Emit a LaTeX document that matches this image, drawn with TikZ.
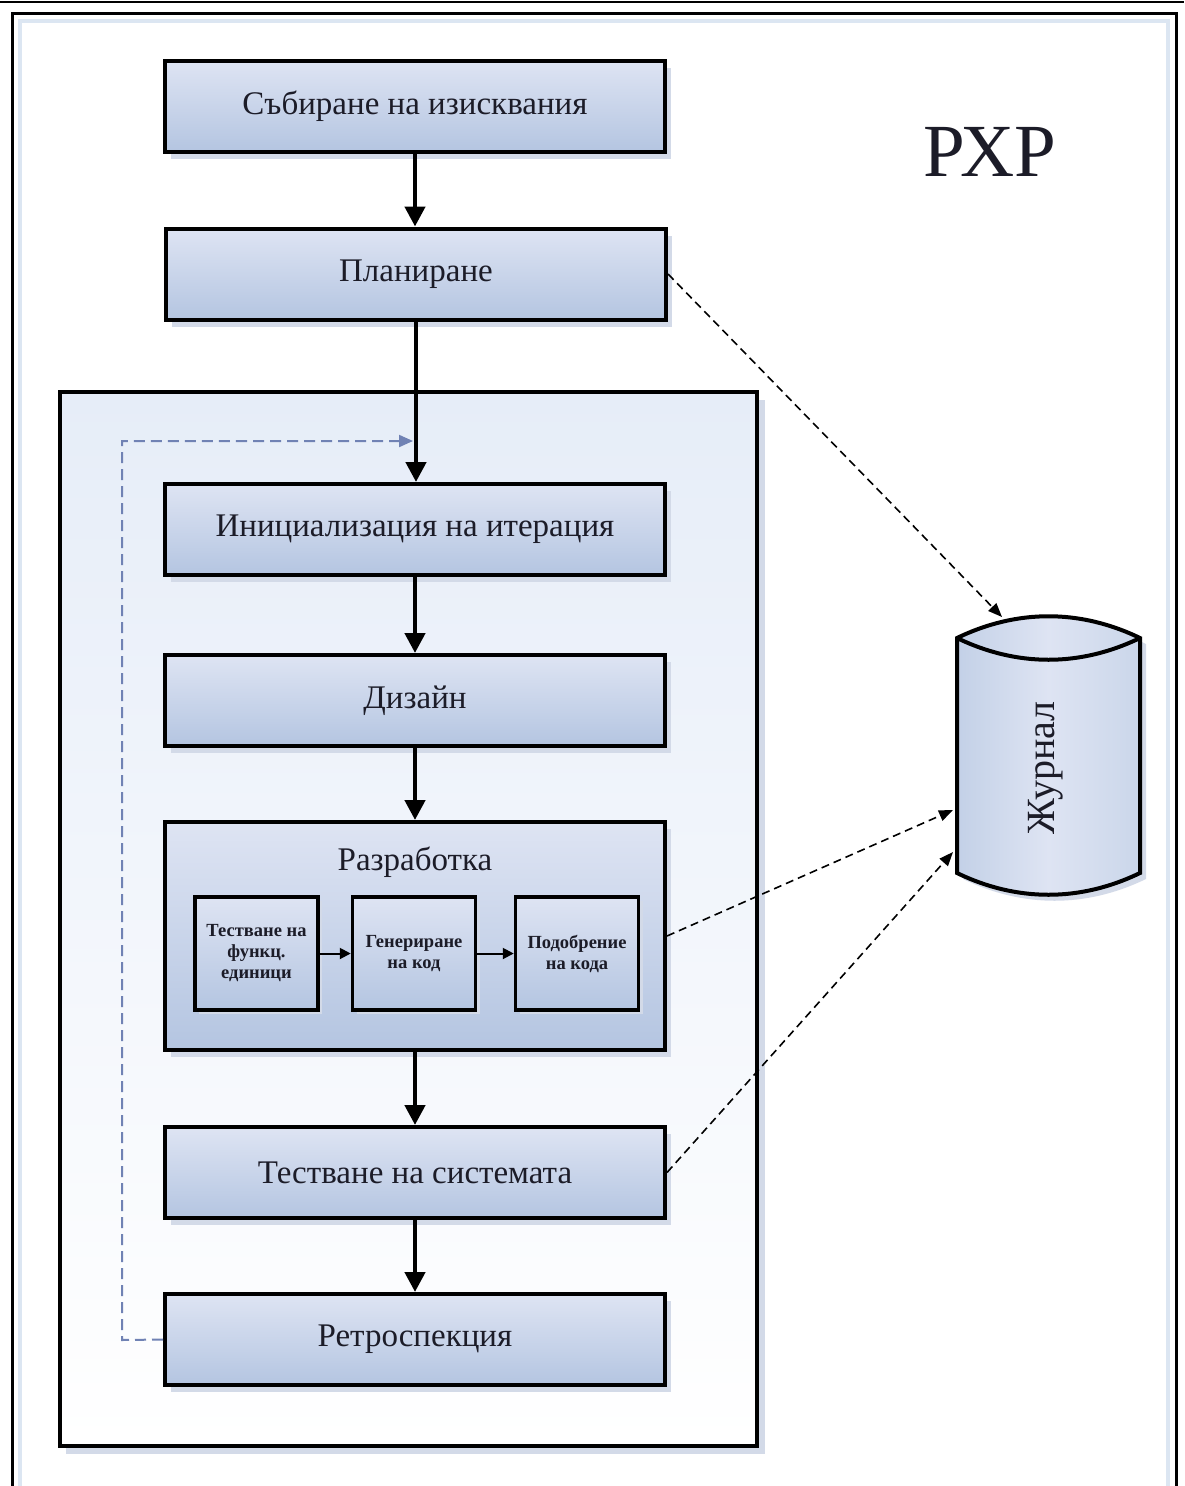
\documentclass[tikz,border=0pt]{standalone}
\usepackage{fontspec}
\setmainfont{Liberation Serif}
\usetikzlibrary{arrows.meta,shadows}
\definecolor{boxtop}{HTML}{DEE4F3}
\definecolor{boxbot}{HTML}{B4C5E1}
\definecolor{shadowc}{HTML}{D3DAE8}
\definecolor{loopc}{HTML}{7082B4}
\definecolor{contl}{HTML}{E6EDF8}
\definecolor{framein}{HTML}{DCE6F2}
\definecolor{txt}{HTML}{1C1C28}
\begin{document}
\begin{tikzpicture}[x=1pt,y=-1pt,
  stage/.style={draw=black, line width=4pt, top color=boxtop, bottom color=boxbot,
    minimum width=500pt, minimum height=91pt, inner sep=0pt, text=txt,
    font=\fontsize{33}{36}\selectfont,
    drop shadow={fill=shadowc, shadow xshift=6pt, shadow yshift=-7pt, opacity=1}},
  substage/.style={draw=black, line width=3.5pt, top color=boxtop, bottom color=boxbot,
    minimum width=123pt, minimum height=113pt, inner sep=0pt, align=center, text=txt,
    font=\bfseries\fontsize{18.5}{21}\selectfont,
    drop shadow={fill=shadowc, shadow xshift=4pt, shadow yshift=-4pt, opacity=1}},
  flow/.style={line width=4.5pt, -{Triangle[width=20pt,length=20pt]}},
  subflow/.style={line width=2pt, -{Triangle[width=11pt,length=11pt]}},
  logflow/.style={line width=1.6pt, dash pattern=on 8pt off 5pt, -{Triangle[width=11pt,length=14pt]}},
  loopflow/.style={draw=loopc, line width=2pt, dash pattern=on 11pt off 6pt, -{Triangle[width=12pt,length=14pt,fill=loopc]}}
]
\useasboundingbox (0,0) rectangle (1184,1486);
\fill[white] (0,0) rectangle (1184,1486);
% outer frame
\draw[line width=2pt] (0,2) -- (1184,2);
\draw[framein, line width=4pt] (20,21) rectangle (1168,1500);
\draw[line width=3pt] (12,13) rectangle (1176,1500);

% container
\fill[shadowc] (66,400) rectangle (765,1454);
\shade[top color=contl, bottom color=white, draw=black, line width=4pt] (60,392) rectangle (757,1446);

% title
\node[text=txt] (title) at (990,152) {\fontsize{75}{80}\selectfont РХР};

% stages
\node[stage] (req) at (415,106) {Събиране на изисквания};
\node[stage] (plan) at (416,274) {Планиране};
\node[stage] (init) at (415,529.5) {Инициализация на итерация};
\node[stage] (design) at (415,700.5) {Дизайн};
\node[stage, minimum height=228pt] (dev) at (415,936) {};
\node[text=txt, font=\fontsize{33}{36}\selectfont] (devtitle) at (415,862) {Разработка};
\node[substage] (tdd) at (256.5,953.5) {Тестване на\\функц.\\единици};
\node[substage] (gen) at (414,953.5) {Генериране\\на код};
\node[substage] (ref) at (577,953.5) {Подобрение\\на кода};
\node[stage] (test) at (415,1172.5) {Тестване на системата};
\node[stage] (retro) at (415,1339.5) {Ретроспекция};

% cylinder (journal)
\coordinate (cylTL) at (957,638);
\coordinate (cylTR) at (1140,638);
\coordinate (cylBL) at (957,873);
\coordinate (cylBR) at (1140,873);
\fill[shadowc] ([xshift=6pt,yshift=-6pt]cylTL) .. controls +(60,-29) and +(-60,-29) .. ([xshift=6pt,yshift=-6pt]cylTR) -- ([xshift=6pt,yshift=-6pt]cylBR) .. controls +(-60,29) and +(60,29) .. ([xshift=6pt,yshift=-6pt]cylBL) -- cycle;
\shade[left color=boxbot!80!white, right color=boxbot!70!white, middle color=boxtop, draw=black, line width=4pt]
  (cylTL) .. controls +(60,-29) and +(-60,-29) .. (cylTR) -- (cylBR)
  .. controls +(-60,29) and +(60,29) .. (cylBL) -- cycle;
\draw[line width=4pt] (cylTL) .. controls +(60,29) and +(-60,29) .. (cylTR);
\node[rotate=90, text=txt, font=\fontsize{40}{44}\selectfont] (log) at (1046,768) {Журнал};
\coordinate (logtop) at (1002,617);
\coordinate (login1) at (953,810);
\coordinate (login2) at (953,852);

% main flow
\draw[flow] (req.south) -- (req.south |- plan.north);
\draw[flow] (plan.south) -- (plan.south |- init.north);
\draw[flow] (init.south) -- (design.north);
\draw[flow] (design.south) -- (dev.north);
\draw[flow] (dev.south) -- (test.north);
\draw[flow] (test.south) -- (retro.north);

% inner flow
\draw[subflow] (tdd.east) -- (gen.west);
\draw[subflow] (gen.east) -- (ref.west);

% iteration loop
\coordinate (loopcorner1) at (122,1340);
\coordinate (loopcorner2) at (122,441);
\coordinate (loopend) at (413,441);
\draw[loopflow] (retro.west) -- (loopcorner1) -- (loopcorner2) -- (loopend);

% journal links
\draw[logflow] (plan.east) -- (logtop);
\draw[logflow] (dev.east) -- (login1);
\draw[logflow] (test.east) -- (login2);
\end{tikzpicture}
\end{document}
